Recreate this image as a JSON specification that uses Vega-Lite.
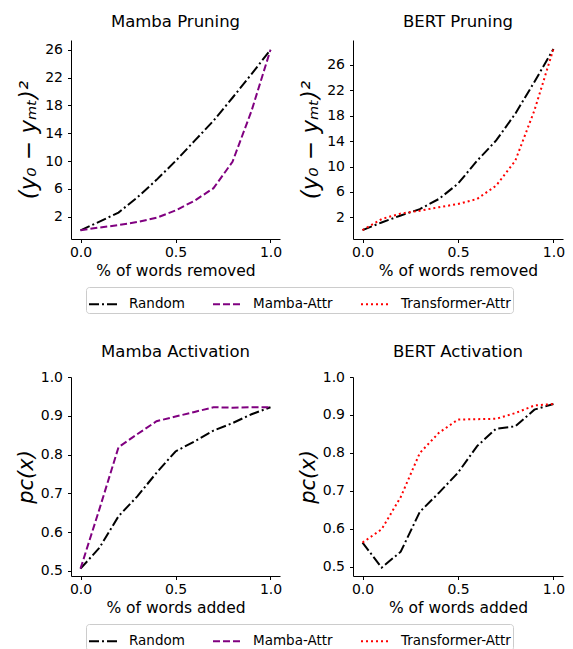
{
  "$schema": "https://vega.github.io/schema/vega-lite/v6.json",
  "bounds": "flush",
  "padding": {"left": 15, "top": 13, "right": 5, "bottom": 5},
  "background": "white",
  "datasets": {
    "d": [
      {"panel": "Mamba Pruning", "method": "Random", "x": 0.0, "y": 0.05},
      {"panel": "Mamba Pruning", "method": "Random", "x": 0.1, "y": 1.3},
      {"panel": "Mamba Pruning", "method": "Random", "x": 0.2, "y": 2.6},
      {"panel": "Mamba Pruning", "method": "Random", "x": 0.3, "y": 4.8},
      {"panel": "Mamba Pruning", "method": "Random", "x": 0.4, "y": 7.3},
      {"panel": "Mamba Pruning", "method": "Random", "x": 0.5, "y": 10.0},
      {"panel": "Mamba Pruning", "method": "Random", "x": 0.6, "y": 12.9},
      {"panel": "Mamba Pruning", "method": "Random", "x": 0.7, "y": 15.8},
      {"panel": "Mamba Pruning", "method": "Random", "x": 0.8, "y": 19.1},
      {"panel": "Mamba Pruning", "method": "Random", "x": 0.9, "y": 22.5},
      {"panel": "Mamba Pruning", "method": "Random", "x": 1.0, "y": 26.0},
      {"panel": "Mamba Pruning", "method": "Mamba-Attr", "x": 0.0, "y": 0.05},
      {"panel": "Mamba Pruning", "method": "Mamba-Attr", "x": 0.1, "y": 0.45},
      {"panel": "Mamba Pruning", "method": "Mamba-Attr", "x": 0.2, "y": 0.8},
      {"panel": "Mamba Pruning", "method": "Mamba-Attr", "x": 0.3, "y": 1.25},
      {"panel": "Mamba Pruning", "method": "Mamba-Attr", "x": 0.4, "y": 1.85},
      {"panel": "Mamba Pruning", "method": "Mamba-Attr", "x": 0.5, "y": 2.9},
      {"panel": "Mamba Pruning", "method": "Mamba-Attr", "x": 0.6, "y": 4.3},
      {"panel": "Mamba Pruning", "method": "Mamba-Attr", "x": 0.7, "y": 6.1},
      {"panel": "Mamba Pruning", "method": "Mamba-Attr", "x": 0.8, "y": 9.9},
      {"panel": "Mamba Pruning", "method": "Mamba-Attr", "x": 0.9, "y": 17.2},
      {"panel": "Mamba Pruning", "method": "Mamba-Attr", "x": 1.0, "y": 26.0},
      {"panel": "BERT Pruning", "method": "Random", "x": 0.0, "y": 0.0},
      {"panel": "BERT Pruning", "method": "Random", "x": 0.1, "y": 1.2},
      {"panel": "BERT Pruning", "method": "Random", "x": 0.2, "y": 2.3},
      {"panel": "BERT Pruning", "method": "Random", "x": 0.3, "y": 3.3},
      {"panel": "BERT Pruning", "method": "Random", "x": 0.4, "y": 4.9},
      {"panel": "BERT Pruning", "method": "Random", "x": 0.5, "y": 7.3},
      {"panel": "BERT Pruning", "method": "Random", "x": 0.6, "y": 10.9},
      {"panel": "BERT Pruning", "method": "Random", "x": 0.7, "y": 14.1},
      {"panel": "BERT Pruning", "method": "Random", "x": 0.8, "y": 18.3},
      {"panel": "BERT Pruning", "method": "Random", "x": 0.9, "y": 23.3},
      {"panel": "BERT Pruning", "method": "Random", "x": 1.0, "y": 28.5},
      {"panel": "BERT Pruning", "method": "Transformer-Attr", "x": 0.0, "y": 0.0},
      {"panel": "BERT Pruning", "method": "Transformer-Attr", "x": 0.1, "y": 1.75},
      {"panel": "BERT Pruning", "method": "Transformer-Attr", "x": 0.2, "y": 2.6},
      {"panel": "BERT Pruning", "method": "Transformer-Attr", "x": 0.3, "y": 3.05},
      {"panel": "BERT Pruning", "method": "Transformer-Attr", "x": 0.4, "y": 3.6},
      {"panel": "BERT Pruning", "method": "Transformer-Attr", "x": 0.5, "y": 4.1},
      {"panel": "BERT Pruning", "method": "Transformer-Attr", "x": 0.6, "y": 4.9},
      {"panel": "BERT Pruning", "method": "Transformer-Attr", "x": 0.7, "y": 7.0},
      {"panel": "BERT Pruning", "method": "Transformer-Attr", "x": 0.8, "y": 10.9},
      {"panel": "BERT Pruning", "method": "Transformer-Attr", "x": 0.9, "y": 18.8},
      {"panel": "BERT Pruning", "method": "Transformer-Attr", "x": 1.0, "y": 28.5},
      {"panel": "Mamba Activation", "method": "Random", "x": 0.0, "y": 0.506},
      {"panel": "Mamba Activation", "method": "Random", "x": 0.1, "y": 0.56},
      {"panel": "Mamba Activation", "method": "Random", "x": 0.2, "y": 0.641},
      {"panel": "Mamba Activation", "method": "Random", "x": 0.3, "y": 0.693},
      {"panel": "Mamba Activation", "method": "Random", "x": 0.4, "y": 0.753},
      {"panel": "Mamba Activation", "method": "Random", "x": 0.5, "y": 0.808},
      {"panel": "Mamba Activation", "method": "Random", "x": 0.6, "y": 0.834},
      {"panel": "Mamba Activation", "method": "Random", "x": 0.7, "y": 0.862},
      {"panel": "Mamba Activation", "method": "Random", "x": 0.8, "y": 0.881},
      {"panel": "Mamba Activation", "method": "Random", "x": 0.9, "y": 0.904},
      {"panel": "Mamba Activation", "method": "Random", "x": 1.0, "y": 0.922},
      {"panel": "Mamba Activation", "method": "Mamba-Attr", "x": 0.0, "y": 0.506},
      {"panel": "Mamba Activation", "method": "Mamba-Attr", "x": 0.1, "y": 0.66},
      {"panel": "Mamba Activation", "method": "Mamba-Attr", "x": 0.2, "y": 0.819},
      {"panel": "Mamba Activation", "method": "Mamba-Attr", "x": 0.3, "y": 0.853},
      {"panel": "Mamba Activation", "method": "Mamba-Attr", "x": 0.4, "y": 0.886},
      {"panel": "Mamba Activation", "method": "Mamba-Attr", "x": 0.5, "y": 0.898},
      {"panel": "Mamba Activation", "method": "Mamba-Attr", "x": 0.6, "y": 0.91},
      {"panel": "Mamba Activation", "method": "Mamba-Attr", "x": 0.7, "y": 0.922},
      {"panel": "Mamba Activation", "method": "Mamba-Attr", "x": 0.8, "y": 0.921},
      {"panel": "Mamba Activation", "method": "Mamba-Attr", "x": 0.9, "y": 0.922},
      {"panel": "Mamba Activation", "method": "Mamba-Attr", "x": 1.0, "y": 0.922},
      {"panel": "BERT Activation", "method": "Random", "x": 0.0, "y": 0.564},
      {"panel": "BERT Activation", "method": "Random", "x": 0.1, "y": 0.498},
      {"panel": "BERT Activation", "method": "Random", "x": 0.2, "y": 0.54},
      {"panel": "BERT Activation", "method": "Random", "x": 0.3, "y": 0.645},
      {"panel": "BERT Activation", "method": "Random", "x": 0.4, "y": 0.695},
      {"panel": "BERT Activation", "method": "Random", "x": 0.5, "y": 0.748},
      {"panel": "BERT Activation", "method": "Random", "x": 0.6, "y": 0.818},
      {"panel": "BERT Activation", "method": "Random", "x": 0.7, "y": 0.864},
      {"panel": "BERT Activation", "method": "Random", "x": 0.8, "y": 0.87},
      {"panel": "BERT Activation", "method": "Random", "x": 0.9, "y": 0.914},
      {"panel": "BERT Activation", "method": "Random", "x": 1.0, "y": 0.929},
      {"panel": "BERT Activation", "method": "Transformer-Attr", "x": 0.0, "y": 0.564},
      {"panel": "BERT Activation", "method": "Transformer-Attr", "x": 0.1, "y": 0.599},
      {"panel": "BERT Activation", "method": "Transformer-Attr", "x": 0.2, "y": 0.684},
      {"panel": "BERT Activation", "method": "Transformer-Attr", "x": 0.3, "y": 0.8},
      {"panel": "BERT Activation", "method": "Transformer-Attr", "x": 0.4, "y": 0.853},
      {"panel": "BERT Activation", "method": "Transformer-Attr", "x": 0.5, "y": 0.888},
      {"panel": "BERT Activation", "method": "Transformer-Attr", "x": 0.6, "y": 0.889},
      {"panel": "BERT Activation", "method": "Transformer-Attr", "x": 0.7, "y": 0.89},
      {"panel": "BERT Activation", "method": "Transformer-Attr", "x": 0.8, "y": 0.905},
      {"panel": "BERT Activation", "method": "Transformer-Attr", "x": 0.9, "y": 0.925},
      {"panel": "BERT Activation", "method": "Transformer-Attr", "x": 1.0, "y": 0.929}
    ]
  },
  "data": {"name": "d"},
  "columns": 2,
  "spacing": {"row": 138, "column": 73},
  "resolve": {"scale": {"color": "independent", "strokeDash": "independent"}},
  "concat": [
    {
      "width": 209, "height": 199,
      "title": "Mamba Pruning",
      "transform": [{"filter": "datum.panel === 'Mamba Pruning'"}],
      "mark": {"type": "line", "strokeWidth": 2},
      "encoding": {
        "x": {"field": "x", "type": "quantitative", "scale": {"domain": [-0.05, 1.05], "nice": false, "zero": false}, "axis": {"values": [0, 0.5, 1], "format": ".1f", "title": "% of words removed"}},
        "y": {"field": "y", "type": "quantitative", "scale": {"domain": [-1.2, 27.4], "nice": false, "zero": false}, "axis": {"values": [2, 6, 10, 14, 18, 22, 26], "title": "(y₀ − yₘₜ)²", "titleFontSize": 23}},
        "color": {"field": "method", "type": "nominal", "scale": {"domain": ["Random", "Mamba-Attr", "Transformer-Attr"], "range": ["#000000", "#800080", "#ff0000"]},
          "legend": {"orient": "none", "legendX": 15, "legendY": 247, "direction": "horizontal", "columns": 3, "title": null, "symbolType": "stroke", "symbolSize": 784, "symbolStrokeWidth": 2, "labelFontSize": 13.5, "labelOffset": 11, "columnPadding": 24, "padding": 2, "strokeColor": "#cccccc", "cornerRadius": 3, "fillColor": "white"}},
        "strokeDash": {"field": "method", "type": "nominal", "scale": {"domain": ["Random", "Mamba-Attr", "Transformer-Attr"], "range": [[10, 3, 2, 3], [7, 3], [2, 3]]},
          "legend": {"orient": "none", "legendX": 15, "legendY": 247, "direction": "horizontal", "columns": 3, "title": null, "symbolType": "stroke", "symbolSize": 784, "symbolStrokeWidth": 2, "labelFontSize": 13.5, "labelOffset": 11, "columnPadding": 24, "padding": 2, "strokeColor": "#cccccc", "cornerRadius": 3, "fillColor": "white"}}
      }
    },
    {
      "width": 210, "height": 199,
      "title": "BERT Pruning",
      "transform": [{"filter": "datum.panel === 'BERT Pruning'"}],
      "mark": {"type": "line", "strokeWidth": 2},
      "encoding": {
        "x": {"field": "x", "type": "quantitative", "scale": {"domain": [-0.05, 1.05], "nice": false, "zero": false}, "axis": {"values": [0, 0.5, 1], "format": ".1f", "title": "% of words removed"}},
        "y": {"field": "y", "type": "quantitative", "scale": {"domain": [-1.4, 29.9], "nice": false, "zero": false}, "axis": {"values": [2, 6, 10, 14, 18, 22, 26], "title": "(y₀ − yₘₜ)²", "titleFontSize": 23}},
        "color": {"field": "method", "type": "nominal", "scale": {"domain": ["Random", "Mamba-Attr", "Transformer-Attr"], "range": ["#000000", "#800080", "#ff0000"]}, "legend": null},
        "strokeDash": {"field": "method", "type": "nominal", "scale": {"domain": ["Random", "Mamba-Attr", "Transformer-Attr"], "range": [[10, 3, 2, 3], [7, 3], [2, 3]]}, "legend": null}
      }
    },
    {
      "width": 209, "height": 199,
      "title": "Mamba Activation",
      "transform": [{"filter": "datum.panel === 'Mamba Activation'"}],
      "mark": {"type": "line", "strokeWidth": 2},
      "encoding": {
        "x": {"field": "x", "type": "quantitative", "scale": {"domain": [-0.05, 1.05], "nice": false, "zero": false}, "axis": {"values": [0, 0.5, 1], "format": ".1f", "title": "% of words added"}},
        "y": {"field": "y", "type": "quantitative", "scale": {"domain": [0.487, 1.0], "nice": false, "zero": false}, "axis": {"values": [0.5, 0.6, 0.7, 0.8, 0.9, 1.0], "format": ".1f", "title": "pᴄ(x)", "titleFontSize": 21}},
        "color": {"field": "method", "type": "nominal", "scale": {"domain": ["Random", "Mamba-Attr", "Transformer-Attr"], "range": ["#000000", "#800080", "#ff0000"]},
          "legend": {"orient": "none", "legendX": 15, "legendY": 247, "direction": "horizontal", "columns": 3, "title": null, "symbolType": "stroke", "symbolSize": 784, "symbolStrokeWidth": 2, "labelFontSize": 13.5, "labelOffset": 11, "columnPadding": 24, "padding": 2, "strokeColor": "#cccccc", "cornerRadius": 3, "fillColor": "white"}},
        "strokeDash": {"field": "method", "type": "nominal", "scale": {"domain": ["Random", "Mamba-Attr", "Transformer-Attr"], "range": [[10, 3, 2, 3], [7, 3], [2, 3]]},
          "legend": {"orient": "none", "legendX": 15, "legendY": 247, "direction": "horizontal", "columns": 3, "title": null, "symbolType": "stroke", "symbolSize": 784, "symbolStrokeWidth": 2, "labelFontSize": 13.5, "labelOffset": 11, "columnPadding": 24, "padding": 2, "strokeColor": "#cccccc", "cornerRadius": 3, "fillColor": "white"}}
      }
    },
    {
      "width": 210, "height": 199,
      "title": "BERT Activation",
      "transform": [{"filter": "datum.panel === 'BERT Activation'"}],
      "mark": {"type": "line", "strokeWidth": 2},
      "encoding": {
        "x": {"field": "x", "type": "quantitative", "scale": {"domain": [-0.05, 1.05], "nice": false, "zero": false}, "axis": {"values": [0, 0.5, 1], "format": ".1f", "title": "% of words added"}},
        "y": {"field": "y", "type": "quantitative", "scale": {"domain": [0.476, 1.0], "nice": false, "zero": false}, "axis": {"values": [0.5, 0.6, 0.7, 0.8, 0.9, 1.0], "format": ".1f", "title": "pᴄ(x)", "titleFontSize": 21}},
        "color": {"field": "method", "type": "nominal", "scale": {"domain": ["Random", "Mamba-Attr", "Transformer-Attr"], "range": ["#000000", "#800080", "#ff0000"]}, "legend": null},
        "strokeDash": {"field": "method", "type": "nominal", "scale": {"domain": ["Random", "Mamba-Attr", "Transformer-Attr"], "range": [[10, 3, 2, 3], [7, 3], [2, 3]]}, "legend": null}
      }
    }
  ],
  "config": {
    "view": {"stroke": null},
    "font": "DejaVu Sans",
    "axis": {"grid": false, "domainColor": "black", "tickColor": "black", "labelColor": "black", "titleColor": "black", "labelFontSize": 14, "titleFontSize": 15.5, "titleFontWeight": "normal", "tickSize": 3.5, "labelPadding": 3, "titlePadding": 4, "domainWidth": 1, "tickWidth": 1, "labelFont": "DejaVu Sans", "titleFont": "DejaVu Sans"},
    "axisY": {"titleFontStyle": "italic", "labelPadding": 5, "titlePadding": 4},
    "legend": {"labelFont": "DejaVu Sans", "labelColor": "black"},
    "title": {"fontSize": 16.5, "fontWeight": "normal", "font": "DejaVu Sans", "color": "black", "offset": 10}
  }
}
